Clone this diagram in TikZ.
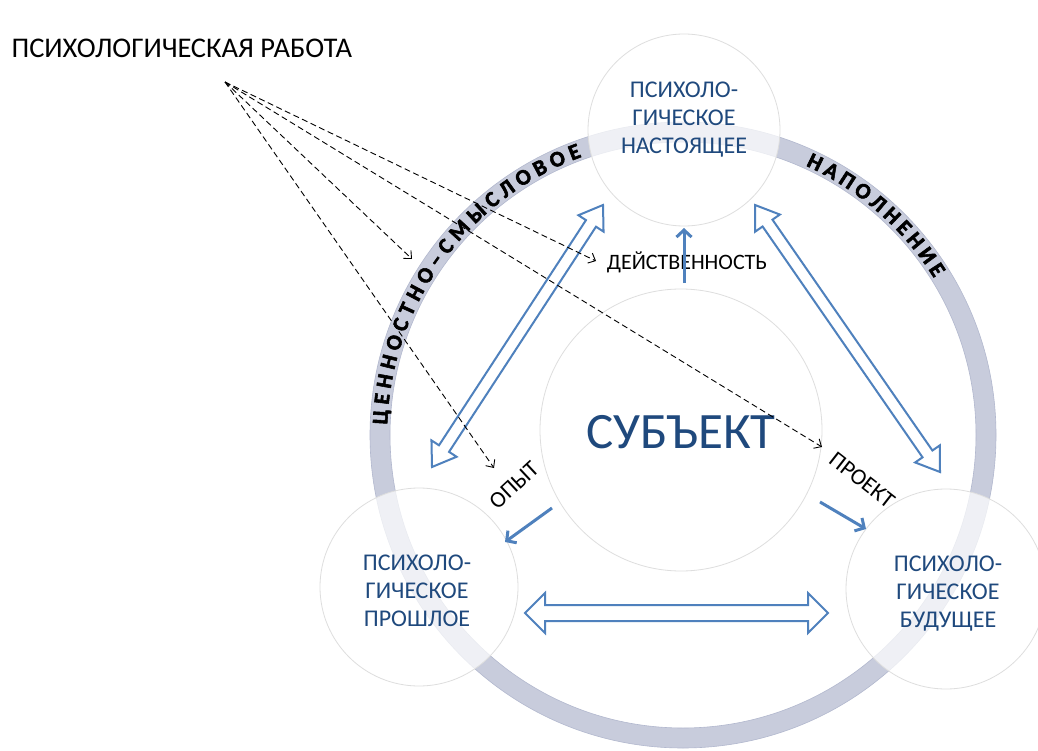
\documentclass[tikz,border=0pt]{standalone}
\usepackage{fontspec}
\setmainfont{Carlito}
\newfontfamily\ringfont[FakeBold=2.5]{Carlito}
\usetikzlibrary{arrows.meta,calc,decorations.text}
\definecolor{ringfill}{RGB}{200,204,220}
\definecolor{ringedge}{RGB}{178,184,206}
\definecolor{dblue}{RGB}{31,73,125}
\definecolor{ablue}{RGB}{79,129,189}
\pgfdeclareradialshading{glass}{\pgfpoint{0bp}{0bp}}{color(0bp)=(white); color(38bp)=(white); color(46bp)=(black!6); color(50bp)=(black!16)}
\newcommand\dblarrow[5]{%
  \coordinate (da1) at ($(#1)!#5!(#2)$);
  \coordinate (da2) at ($(#2)!#5!(#1)$);
  \draw[blockarrow] (#1) -- ($(da1)!#4!90:(#2)$) -- ($(da1)!#3!90:(#2)$)
    -- ($(da2)!#3!-90:(#1)$) -- ($(da2)!#4!-90:(#1)$) -- (#2)
    -- ($(da2)!#4!90:(#1)$) -- ($(da2)!#3!90:(#1)$)
    -- ($(da1)!#3!-90:(#2)$) -- ($(da1)!#4!-90:(#2)$) -- cycle;
}
\tikzset{
  glassc/.style={circle, draw=black!13, line width=0.8pt, shading=glass, fill opacity=0.72, inner sep=0pt},
  ctext/.style={text=dblue, font=\fontsize{24}{28}\selectfont, align=center, inner sep=0pt},
  guide/.style={draw=black, line width=0.9pt, dash pattern=on 6pt off 3.5pt, -{Straight Barb[length=6pt,width=11pt]}},
  solidarr/.style={draw=ablue, line width=3pt, -{Straight Barb[length=7pt,width=15pt]}},
  blockarrow/.style={draw=ablue, line width=2pt, fill=white, line join=miter},
  ringtext/.style={decorate, decoration={text along path, text align={fit to path}, text={#1}}}
}
\begin{document}
\begin{tikzpicture}[x=1pt,y=1pt]
\useasboundingbox (0,0) rectangle (1038,-751);
\fill[white] (0,0) rectangle (1038,-751);
\coordinate (C) at (683,-435);
% ring
\fill[ringfill, even odd rule] (C) circle[radius=313] (C) circle[radius=293];
\draw[ringedge, line width=0.6pt] (C) circle[radius=313] (C) circle[radius=293];
{\ringfont\bfseries\fontsize{22}{22}\selectfont\color{black}
\path[ringtext={ЦЕННОСТНО–СМЫСЛОВОЕ}] ($(C)+(178:296)$) arc[start angle=178, end angle=110, radius=296];
\path[ringtext={НАПОЛНЕНИЕ}] ($(C)+(65.5:296)$) arc[start angle=65.5, end angle=32, radius=296];
}
% circles
\node[glassc, minimum size=282pt] (subj) at (681,-430) {};
\node[glassc, minimum size=192pt] (present) at (684,-130) {};
\node[glassc, minimum size=198pt] (past) at (419,-587) {};
\node[glassc, minimum size=200pt] (future) at (946,-589) {};
% texts
\node[ctext] (presentT) at (684,-120) {ПСИХОЛО-\\ГИЧЕСКОЕ\\НАСТОЯЩЕЕ};
\node[ctext] (pastT) at (417,-591) {ПСИХОЛО-\\ГИЧЕСКОЕ\\ПРОШЛОЕ};
\node[ctext] (futureT) at (948,-594) {ПСИХОЛО-\\ГИЧЕСКОЕ\\БУДУЩЕЕ};
\node[text=dblue, font=\fontsize{51}{51}\selectfont] (subjT) at (681,-432) {СУБЪЕКТ};
\node[font=\fontsize{22}{22}\selectfont] (act) at (687,-262) {ДЕЙСТВЕННОСТЬ};
\node[font=\fontsize{23}{23}\selectfont, rotate=43, inner sep=0pt] (exp) at (514,-485) {ОПЫТ};
\node[font=\fontsize{23}{23}\selectfont, rotate=-38, inner sep=0pt] (proj) at (862,-480) {ПРОЕКТ};
\node[font=\fontsize{28.5}{28.5}\selectfont, anchor=west] (work) at (8,-48) {ПСИХОЛОГИЧЕСКАЯ РАБОТА};
% block arrows
\coordinate (lt1) at (432,-467); \coordinate (lt2) at (603,-205);
\coordinate (rt1) at (755,-205); \coordinate (rt2) at (940,-472);
\coordinate (bt1) at (525,-613); \coordinate (bt2) at (828,-613);
\dblarrow{lt1}{lt2}{6pt}{15pt}{22pt}
\dblarrow{rt1}{rt2}{6pt}{15pt}{22pt}
\dblarrow{bt1}{bt2}{8pt}{20pt}{20pt}
% solid arrows
\coordinate (up1) at (684,-283); \coordinate (up2) at (684,-228);
\coordinate (op1) at (552,-508); \coordinate (op2) at (505,-542);
\coordinate (pr1) at (820,-502); \coordinate (pr2) at (866,-529);
\draw[solidarr] (up1) -- (up2);
\draw[solidarr] (op1) -- (op2);
\draw[solidarr] (pr1) -- (pr2);
% dashed guides
\coordinate (src) at (225,-82);
\coordinate (g1) at (412,-259);
\coordinate (g2) at (596,-261);
\coordinate (g3) at (494,-468);
\coordinate (g4) at (822,-447);
\draw[guide] (src) -- (g1);
\draw[guide] (src) -- (g2);
\draw[guide] (src) -- (g3);
\draw[guide] (src) -- (g4);
\end{tikzpicture}
\end{document}
